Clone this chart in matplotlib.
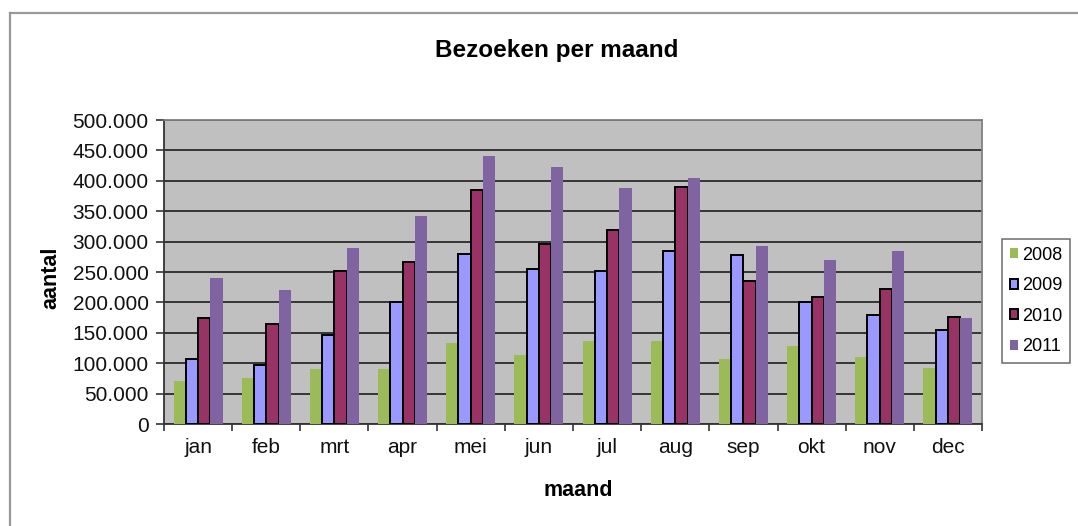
import matplotlib
matplotlib.use("Agg")
import matplotlib.pyplot as plt
import numpy as np
from matplotlib.ticker import FuncFormatter, FixedLocator
from matplotlib.lines import Line2D

months = ["jan", "feb", "mrt", "apr", "mei", "jun", "jul", "aug", "sep", "okt", "nov", "dec"]
years = ["2008", "2009", "2010", "2011"]
v2008 = [71000, 75000, 91000, 91000, 134000, 114000, 136000, 136000, 107000, 129000, 110000, 92000]
v2009 = [107000, 97000, 147000, 200000, 280000, 255000, 252000, 285000, 278000, 200000, 180000, 154000]
v2010 = [174000, 165000, 251000, 266000, 385000, 296000, 319000, 389000, 235000, 209000, 222000, 176000]
v2011 = [240000, 221000, 290000, 342000, 440000, 423000, 388000, 405000, 292000, 269000, 284000, 175000]
series = [v2008, v2009, v2010, v2011]
colors = ["#9BBB59", "#9999FF", "#993366", "#8064A2"]
edges = [None, "black", "black", None]

plt.rcParams['font.family'] = ['Liberation Sans', 'DejaVu Sans']

fig = plt.figure(figsize=(10.78, 5.26), dpi=100)
W, H = 1078, 526
ax = fig.add_axes([164 / W, (H - 424) / H, (982 - 164) / W, (424 - 120) / H])
ax.set_facecolor("#C0C0C0")

x = np.arange(len(months))
bw = 0.18
for i, (vals, c, e) in enumerate(zip(series, colors, edges)):
    off = (i - 1.5) * bw
    if e is None:
        ax.bar(x + off, vals, width=bw, color=c, linewidth=0, label=years[i], zorder=3)
    else:
        ax.bar(x + off, vals, width=bw, color=c, edgecolor=e, linewidth=1.4, label=years[i], zorder=3)

ax.set_xlim(-0.5, len(months) - 0.5)
ax.set_ylim(0, 500000)
ax.yaxis.set_major_locator(FixedLocator(np.arange(0, 500001, 50000)))
ax.yaxis.set_major_formatter(FuncFormatter(lambda v, p: f"{int(v):,}".replace(",", ".")))
ax.yaxis.grid(True, color="#2a2a2a", linewidth=1.3, zorder=1)
ax.set_axisbelow(True)

ax.set_xticks(x)
ax.set_xticklabels(months)
ax.xaxis.set_minor_locator(FixedLocator(np.arange(-0.5, len(months), 1.0)))
ax.tick_params(axis="x", which="major", length=0, pad=10, labelsize=15, colors="#111111")
ax.tick_params(axis="x", which="minor", length=5, width=1.2, color="#333333")
ax.tick_params(axis="y", which="major", length=6, width=1.2, color="#333333", labelsize=15,
               labelcolor="#111111", pad=5)

for s in ["left", "bottom"]:
    ax.spines[s].set_color("#333333")
    ax.spines[s].set_linewidth(1.3)
for s in ["top", "right"]:
    ax.spines[s].set_color("#808080")
    ax.spines[s].set_linewidth(1.3)

fig.text(557 / W, 1 - 50 / H, "Bezoeken per maand", ha="center", va="center",
         fontsize=17.5, fontweight="bold")
fig.text(578 / W, 1 - 490 / H, "maand", ha="center", va="center",
         fontsize=15.5, fontweight="bold")
fig.text(51 / W, 1 - 278 / H, "aantal", ha="center", va="center", rotation=90,
         fontsize=15.5, fontweight="bold")

leg = fig.legend(loc="center", bbox_to_anchor=(1036 / W, 1 - 301 / H),
                 fontsize=13, frameon=True, fancybox=False, shadow=False,
                 handlelength=0.45, handleheight=0.45, handletextpad=0.2,
                 labelspacing=0.75, borderpad=0.45, borderaxespad=0)
leg.get_frame().set_edgecolor("#555555")
leg.get_frame().set_linewidth(1.2)

# chart area border
fig.add_artist(Line2D([10 / W, 1.0], [1 - 13 / H, 1 - 13 / H], color="#999999", linewidth=1.6,
                      transform=fig.transFigure))
fig.add_artist(Line2D([10 / W, 10 / W], [0, 1 - 13 / H], color="#999999", linewidth=1.6,
                      transform=fig.transFigure))

fig.savefig("out.png", dpi=100, facecolor="white")
